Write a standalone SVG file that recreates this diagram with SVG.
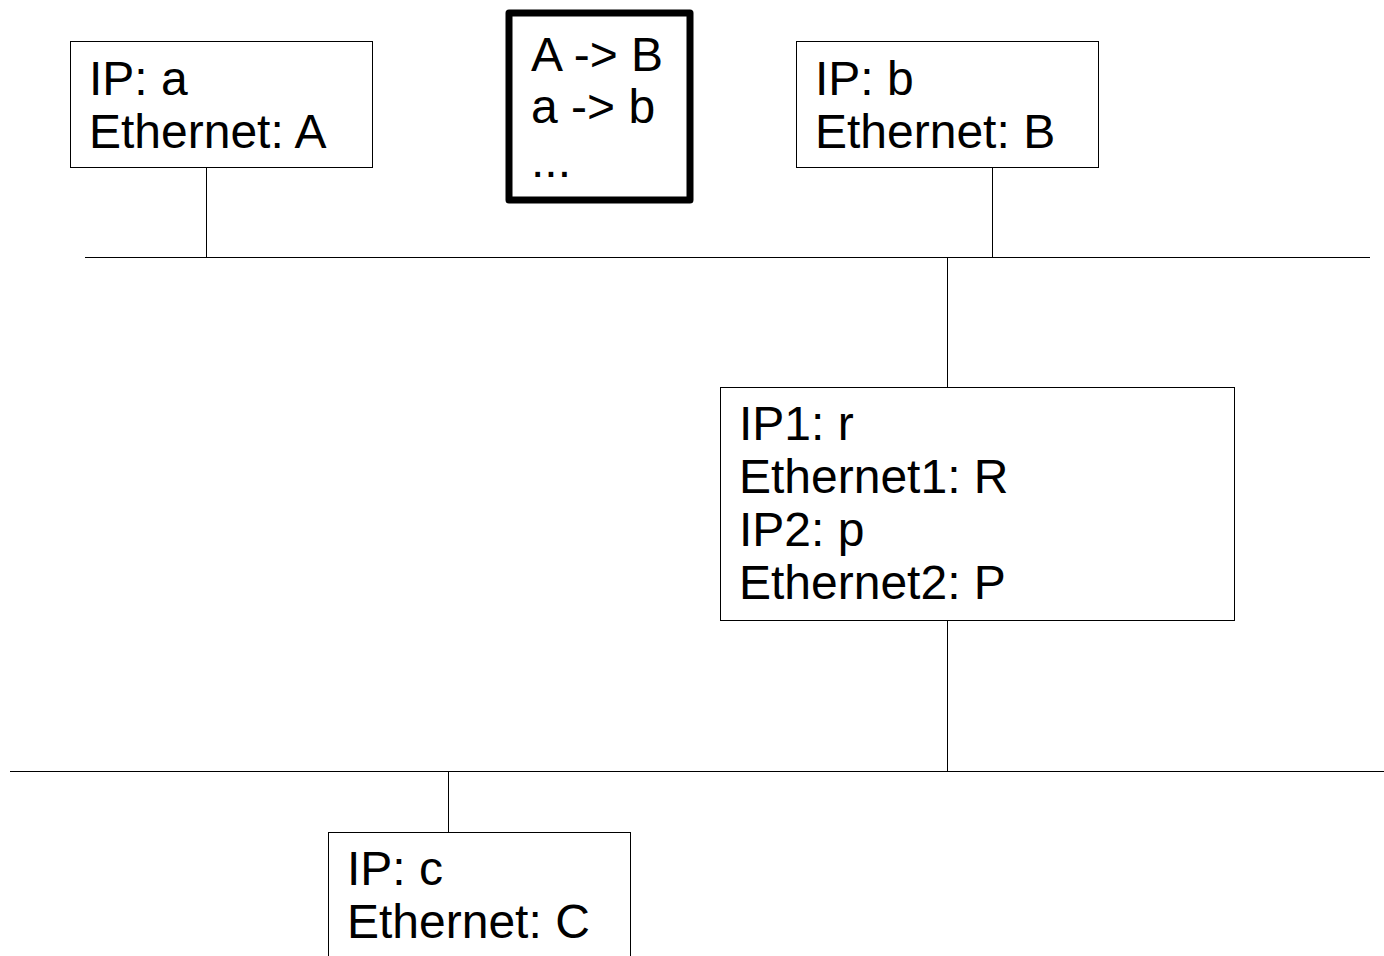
<svg xmlns="http://www.w3.org/2000/svg" width="1384" height="956" viewBox="0 0 1384 956">
<style>
.box{fill:#fff;stroke:#000;stroke-width:1}
.line{stroke:#000;stroke-width:1;fill:none}
.t{font-family:"Liberation Sans",Arial,sans-serif;font-size:48px;fill:#000}
</style>
<rect width="1384" height="956" fill="#fff"/>
<g id="connectors">
<line class="line" x1="85" y1="257.5" x2="1370" y2="257.5"/>
<line class="line" x1="10" y1="771.5" x2="1384" y2="771.5"/>
<line class="line" x1="206.5" y1="168" x2="206.5" y2="257"/>
<line class="line" x1="992.5" y1="168" x2="992.5" y2="257"/>
<line class="line" x1="947.5" y1="258" x2="947.5" y2="387"/>
<line class="line" x1="947.5" y1="620" x2="947.5" y2="771"/>
<line class="line" x1="448.5" y1="772" x2="448.5" y2="832"/>
</g>
<g id="hostA">
<rect class="box" x="70.5" y="41.5" width="302" height="126"/>
<text class="t" x="89" y="95">IP: a</text>
<text class="t" x="89" y="148">Ethernet: A</text>
</g>
<g id="table">
<rect x="509" y="13" width="181" height="187" fill="#fff" stroke="#000" stroke-width="7" stroke-linejoin="round"/>
<text class="t" x="531" y="71">A -&gt; B</text>
<text class="t" x="531" y="123">a -&gt; b</text>
<text class="t" x="531" y="177">...</text>
</g>
<g id="hostB">
<rect class="box" x="796.5" y="41.5" width="302" height="126"/>
<text class="t" x="815" y="95">IP: b</text>
<text class="t" x="815" y="148">Ethernet: B</text>
</g>
<g id="router">
<rect class="box" x="720.5" y="387.5" width="514" height="233"/>
<text class="t" x="739" y="440">IP1: r</text>
<text class="t" x="739" y="493">Ethernet1: R</text>
<text class="t" x="739" y="546">IP2: p</text>
<text class="t" x="739" y="599">Ethernet2: P</text>
</g>
<g id="hostC">
<rect class="box" x="328.5" y="832.5" width="302" height="140"/>
<text class="t" x="347" y="885">IP: c</text>
<text class="t" x="347" y="938">Ethernet: C</text>
</g>
</svg>
